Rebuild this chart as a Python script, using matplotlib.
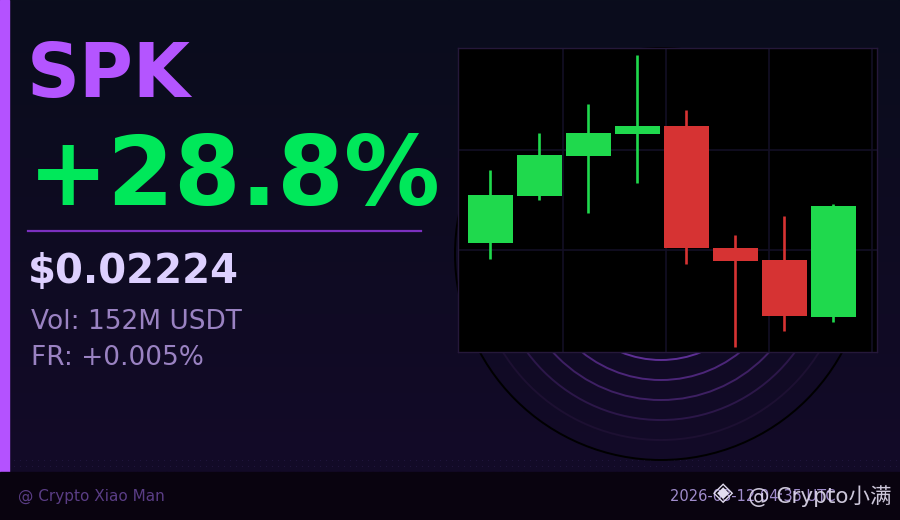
import numpy as np
import matplotlib
matplotlib.use("Agg")
import matplotlib.pyplot as plt
from matplotlib.patches import Rectangle, Circle

# candle data (oldest -> newest)
opens  = [0.02187, 0.02234, 0.02274, 0.02296, 0.02304, 0.02182, 0.02170, 0.02113]
highs  = [0.02260, 0.02297, 0.02326, 0.02375, 0.02320, 0.02195, 0.02214, 0.02226]
lows   = [0.02171, 0.02230, 0.02217, 0.02247, 0.02166, 0.02083, 0.02099, 0.02108]
closes = [0.02235, 0.02275, 0.02297, 0.02304, 0.02182, 0.02169, 0.02114, 0.02224]

symbol = "SPK"
change = "+28.8%"
price = "$0.02224"
volume = "Vol: 152M USDT"
funding = "FR: +0.005%"
stamp = "2026-03-12 04:35 UTC"
author = "@ Crypto Xiao Man"
mark = "@ Crypto小满"

W, H = 900, 520
GREEN = "#1fd94d"
RED = "#d63333"

fig = plt.figure(figsize=(W / 100, H / 100), dpi=100)

# background layer in pixel coords
bg = fig.add_axes([0, 0, 1, 1])
bg.set_xlim(0, W)
bg.set_ylim(H, 0)
bg.axis("off")
c0 = np.array([0x0a, 0x0d, 0x1c]) / 255
c1 = np.array([0x13, 0x0a, 0x28]) / 255
t = np.linspace(0, 1, 256)[:, None]
grad = c0 + (c1 - c0) * t
bg.imshow(grad[:, None, :].repeat(2, axis=1), extent=[0, W, 472, 0], aspect="auto", zorder=0)

# faint dot rows above footer
dx = np.arange(14, W, 6)
for yy in (460, 466):
    bg.scatter(dx, np.full_like(dx, yy), s=0.6, color="#231740", lw=0, zorder=1)

# rings behind chart
ring_r = [106, 126, 146, 166, 186, 206]
ring_c = ["#5e2f95", "#4c2679", "#3e2063", "#2c1749", "#1d1032", "#000000"]
for r, c in zip(ring_r, ring_c):
    bg.add_patch(Circle((661, 254), r, fill=False, ec=c, lw=1.4, zorder=2))

bg.add_patch(Rectangle((0, 0), 9, 472, color="#b452ff", zorder=3))
bg.add_patch(Rectangle((0, 472), W, 48, color="#09030f", zorder=3))
bg.plot([28, 421], [231, 231], color="#7b30bf", lw=1.6, zorder=3)

def px(x, y):
    return x / W, 1 - y / H

fig.text(*px(27, 97), symbol, color="#b455ff", fontsize=53, fontweight="bold", va="baseline")
fig.text(*px(28, 205), change, color="#00e85a", fontsize=69, fontweight="bold", va="baseline")
fig.text(*px(28, 283), price, color="#ddd0ff", fontsize=29, fontweight="bold", va="baseline")
fig.text(*px(31, 329), volume, color="#9a82c2", fontsize=19, va="baseline")
fig.text(*px(31, 365), funding, color="#9a82c2", fontsize=19, va="baseline")
fig.text(*px(18, 501), author, color="#5a3d85", fontsize=11, va="baseline")
fig.text(*px(670, 501), stamp, color="#a08ccc", fontsize=10.5, va="baseline", ha="left")
fig.text(*px(723, 493), "◈", color="#e2dcf0", fontsize=19, va="center", ha="center",
         family=["DejaVu Sans"])
fig.text(*px(892, 503), mark, color="#e2dcf0", fontsize=15.5, va="baseline", ha="right",
         family=["DejaVu Sans", "Noto Sans CJK SC"], alpha=0.9)

# candlestick chart
ax = fig.add_axes([458 / W, 1 - 352 / H, 419 / W, 304 / H])
ax.set_facecolor("#000000")
for i, (o, h, l, c) in enumerate(zip(opens, highs, lows, closes)):
    col = GREEN if c >= o else RED
    ax.vlines(i, l, h, color=col, lw=1.9, zorder=2)
    ax.add_patch(Rectangle((i - 0.455, min(o, c)), 0.91, abs(c - o), color=col, lw=0, zorder=3))
ax.set_xlim(-0.66, 7.89)
ax.set_ylim(0.02078, 0.02382)
ax.set_xticks([1.48, 3.58, 5.68, 7.78])
ax.set_yticks([0.0218, 0.0228])
ax.grid(True, color="#130f25", lw=1.2, zorder=0)
ax.tick_params(length=0, labelbottom=False, labelleft=False)
for s in ax.spines.values():
    s.set_color("#25183a")
    s.set_linewidth(1)

fig.savefig("out.png", dpi=100, facecolor="#0a0d1c")
